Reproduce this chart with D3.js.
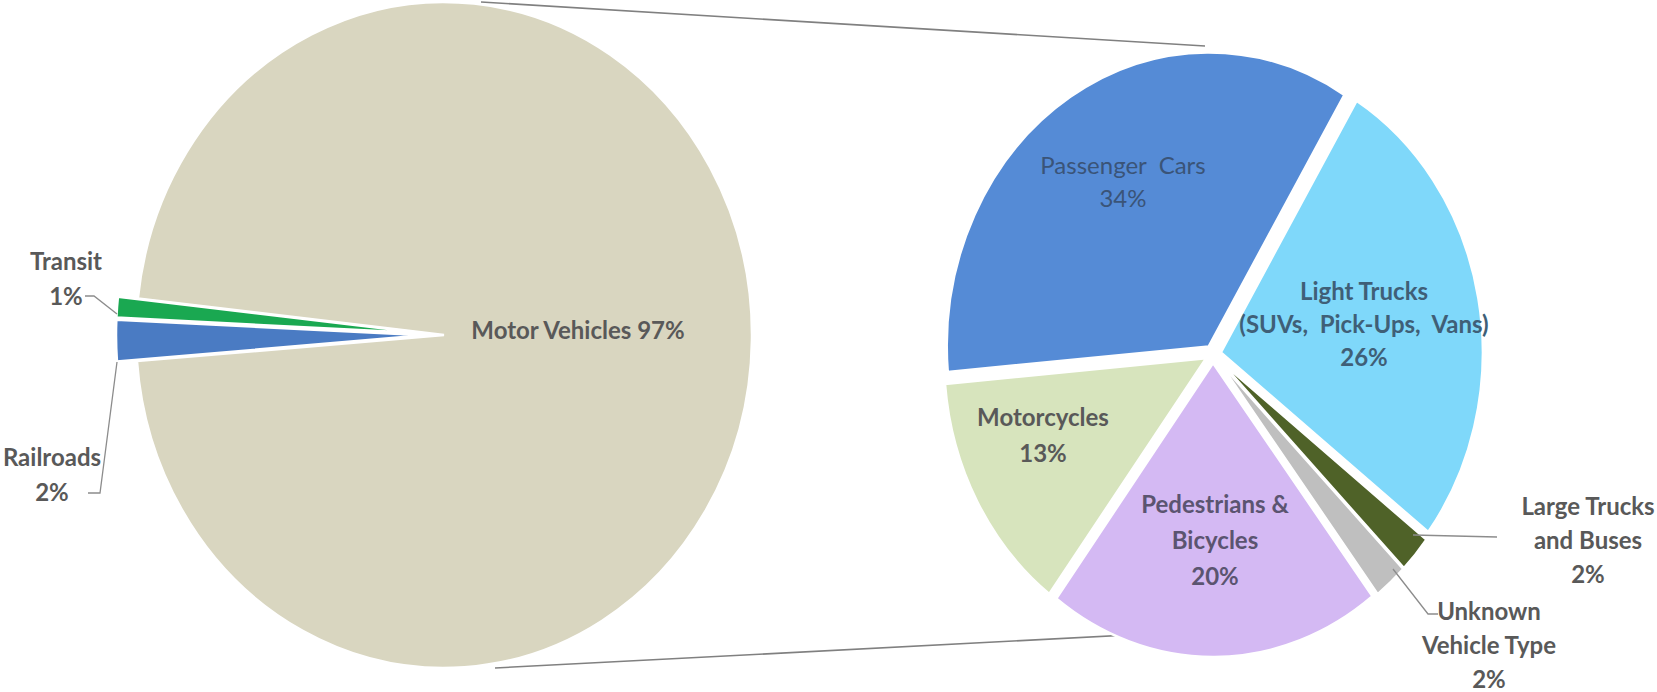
<!DOCTYPE html>
<html>
<head>
<meta charset="utf-8">
<script src="https://cdn.jsdelivr.net/npm/d3@7/dist/d3.min.js"></script>
<style>
  html, body { margin: 0; padding: 0; background: #ffffff; }
  svg { display: block; }
  text { font-family: Lato, "Liberation Sans", Arial, sans-serif; }
</style>
</head>
<body>
<svg id="chart" width="1657" height="692"></svg>
<script>
// ---------- data ----------
const mainCategories = ["Motor Vehicles", "Railroads", "Transit"];
const mainValues = [97, 2, 1];
const mainColors = ["#d9d6c0", "#4a7bc3", "#1aa851"];

const vehicleCategories = ["Passenger Cars", "Light Trucks", "Large Trucks and Buses",
                           "Unknown Vehicle Type", "Pedestrians & Bicycles", "Motorcycles"];
const vehicleValues = [34, 26, 2, 2, 20, 13];
const vehicleColors = ["#558bd6", "#7fd8fa", "#4f6228", "#bfbfbf", "#d4b9f3", "#d7e4bd"];

// label text lines
const mainLabelLines = [["Motor Vehicles 97%"], ["Railroads", "2%"], ["Transit", "1%"]];
const vehicleLabelLines = [
  ["Passenger  Cars", "34%"],
  ["Light Trucks", "(SUVs,  Pick-Ups,  Vans)", "26%"],
  ["Large Trucks", "and Buses", "2%"],
  ["Unknown", "Vehicle Type", "2%"],
  ["Pedestrians &", "Bicycles", "20%"],
  ["Motorcycles", "13%"]
];

// ---------- layout ----------
const svg = d3.select("#chart");
const deg = Math.PI / 180;

// connector lines between the two pies
const connectors = [
  [[481, 2], [1205, 46]],
  [[495, 668], [1205, 631]]
];
svg.selectAll("line.conn").data(connectors).join("line")
  .attr("class", "conn")
  .attr("x1", d => d[0][0]).attr("y1", d => d[0][1])
  .attr("x2", d => d[1][0]).attr("y2", d => d[1][1])
  .attr("stroke", "#808080").attr("stroke-width", 1.6);

// ---------- left (main) pie ----------
const L = { cx: 444, cy: 335, rx: 308, ry: 333 };
const mainPie = d3.pie().sort(null).value(d => d)
  .startAngle(-83.7 * deg).endAngle(-83.7 * deg + 2 * Math.PI);
const mainArcs = mainPie(mainValues);
const mainArc = d3.arc().innerRadius(0).outerRadius(L.rx);
const mainExplode = [0, 20, 20];

const gL = svg.append("g")
  .attr("transform", `translate(${L.cx},${L.cy}) scale(1,${L.ry / L.rx})`);
gL.selectAll("path").data(mainArcs).join("path")
  .attr("d", mainArc)
  .attr("transform", (d, i) => {
    const a = (d.startAngle + d.endAngle) / 2;
    return `translate(${mainExplode[i] * Math.sin(a)},${-mainExplode[i] * Math.cos(a)})`;
  })
  .attr("fill", (d, i) => mainColors[i])
  .attr("stroke", "#ffffff").attr("stroke-width", 2.5)
  .attr("vector-effect", "non-scaling-stroke");

// ---------- right (breakdown) pie ----------
const R = { cx: 1213, cy: 354, rx: 262, ry: 294 };
const vehPie = d3.pie().sort(null).value(d => d)
  .startAngle(-95 * deg).endAngle(-95 * deg + 2 * Math.PI);
const vehArcs = vehPie(vehicleValues);
const vehArc = d3.arc().innerRadius(0).outerRadius(R.rx);
const vehExplode = [8, 8, 8, 8, 8, 8];

const gR = svg.append("g")
  .attr("transform", `translate(${R.cx},${R.cy}) scale(1,${R.ry / R.rx})`);
gR.selectAll("path").data(vehArcs).join("path")
  .attr("d", vehArc)
  .attr("transform", (d, i) => {
    const a = (d.startAngle + d.endAngle) / 2;
    return `translate(${vehExplode[i] * Math.sin(a)},${-vehExplode[i] * Math.cos(a)})`;
  })
  .attr("fill", (d, i) => vehicleColors[i])
  .attr("stroke", "#ffffff").attr("stroke-width", 2.5)
  .attr("vector-effect", "non-scaling-stroke");

// ---------- leader lines ----------
const leaders = [
  [[85, 296], [94, 296], [117, 314]],      // Transit
  [[88, 493], [100, 493], [117, 362]],     // Railroads
  [[1413, 535], [1497, 537]],              // Large Trucks
  [[1393, 569], [1428, 614], [1438, 614]]  // Unknown
];
svg.selectAll("path.leader").data(leaders).join("path")
  .attr("class", "leader")
  .attr("d", d => d3.line()(d))
  .attr("fill", "none").attr("stroke", "#8c8c8c").attr("stroke-width", 1.3);

// ---------- labels ----------
const FS = 24;
const labelSpecs = [
  { lines: mainLabelLines[0], x: 578, y: 331, lh: 35, color: "#595959", weight: 700 },
  { lines: mainLabelLines[1], x: 52, y: 458, lh: 35, color: "#595959", weight: 700 },
  { lines: mainLabelLines[2], x: 66, y: 262, lh: 35, color: "#595959", weight: 700 },
  { lines: vehicleLabelLines[0], x: 1123, y: 166, lh: 33, color: "#3a5478", weight: 400 },
  { lines: vehicleLabelLines[1], x: 1364, y: 292, lh: 33, color: "#3f5f77", weight: 700 },
  { lines: vehicleLabelLines[2], x: 1588, y: 507, lh: 34, color: "#595959", weight: 700 },
  { lines: vehicleLabelLines[3], x: 1489, y: 612, lh: 34, color: "#595959", weight: 700 },
  { lines: vehicleLabelLines[4], x: 1215, y: 505, lh: 36, color: "#5b5470", weight: 700 },
  { lines: vehicleLabelLines[5], x: 1043, y: 418, lh: 36, color: "#595959", weight: 700 }
];
labelSpecs.forEach(s => {
  const t = svg.append("text")
    .attr("text-anchor", "middle")
    .attr("font-size", FS)
    .attr("font-weight", s.weight)
    .attr("fill", s.color)
    .style("white-space", "pre");
  s.lines.forEach((ln, k) => {
    t.append("tspan")
      .attr("x", s.x)
      .attr("y", s.y + k * s.lh)
      .attr("dy", "0.35em")
      .text(ln);
  });
});
</script>
</body>
</html>
